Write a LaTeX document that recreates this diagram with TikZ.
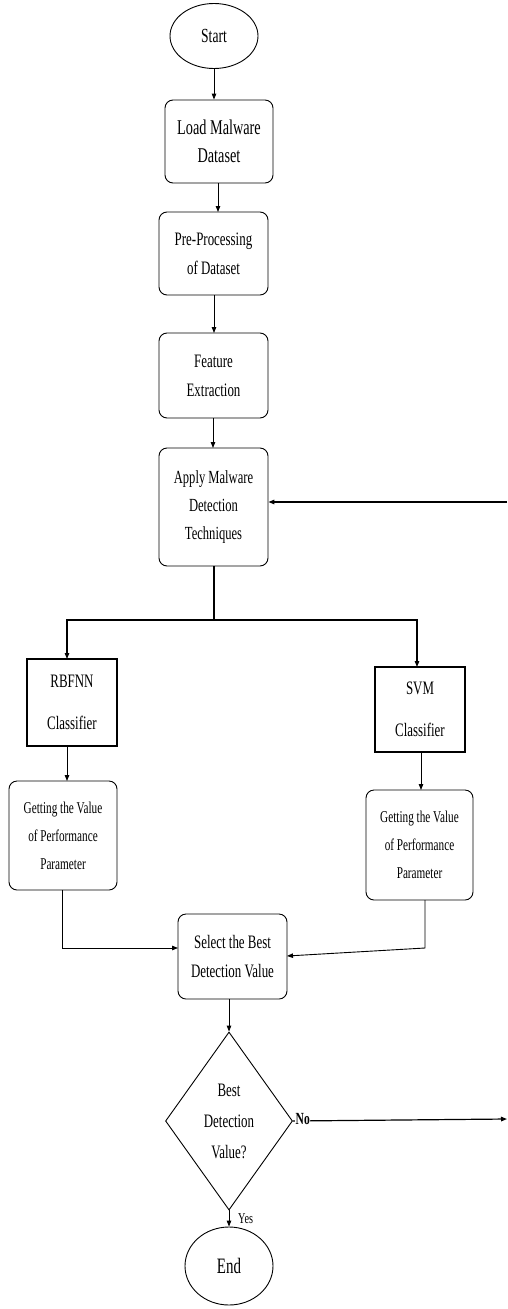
\documentclass[tikz,border=0pt]{standalone}
\usepackage{fontspec}
\setmainfont{Liberation Serif}[FakeStretch=0.68]
\usetikzlibrary{shapes.geometric,arrows.meta}
\begin{document}
\begin{tikzpicture}[x=1pt,y=-1pt,
  every node/.style={align=center,inner sep=0pt,font=\fontsize{19}{29}\selectfont},
  rbox/.style={draw,rounded corners=8pt,line width=0.9pt},
  sbox/.style={draw,line width=1.1pt},
  oval/.style={draw,ellipse,line width=0.9pt,font=\fontsize{20}{22}\selectfont},
  dia/.style={draw,diamond,aspect=0.71,line width=0.9pt,font=\fontsize{19}{31}\selectfont},
  arr/.style={line width=0.9pt,-{Triangle[length=6pt,width=4.5pt]}},
  lbl/.style={font=\fontsize{15}{17}\selectfont}
]
\useasboundingbox (0,0) rectangle (507,1309);
\fill[white] (0,0) rectangle (507,1309);

\node[oval,minimum width=88pt,minimum height=65pt] (start) at (214,36) {Start};
\node[rbox,minimum width=108pt,minimum height=83pt,font=\fontsize{21}{28}\selectfont] (load) at (219,141.5) {Load Malware\\Dataset};
\node[rbox,minimum width=109pt,minimum height=83pt] (pre) at (213.5,253.5) {Pre-Processing\\of Dataset};
\node[rbox,minimum width=109pt,minimum height=85pt] (feat) at (213.5,375.5) {Feature\\Extraction};
\node[rbox,minimum width=109pt,minimum height=118pt,font=\fontsize{18.5}{28}\selectfont] (apply) at (213.5,507) {Apply Malware\\Detection\\Techniques};
\node[sbox,minimum width=90pt,minimum height=87pt,font=\fontsize{19}{42}\selectfont] (rbf) at (72,702.5) {RBFNN\\Classifier};
\node[sbox,minimum width=90pt,minimum height=85pt,font=\fontsize{19}{42}\selectfont] (svm) at (420,709.5) {SVM\\Classifier};
\node[rbox,minimum width=108pt,minimum height=109pt,font=\fontsize{16.5}{28}\selectfont] (getl) at (63,835.5) {Getting the Value\\of Performance\\Parameter};
\node[rbox,minimum width=107pt,minimum height=110pt,font=\fontsize{16.5}{28}\selectfont] (getr) at (419.5,845) {Getting the Value\\of Performance\\Parameter};
\node[rbox,minimum width=109pt,minimum height=85pt] (sel) at (232.5,956.5) {Select the Best\\Detection Value};
\node[dia,minimum width=127pt,minimum height=178pt] (best) at (229,1121) {Best\\Detection\\Value?};
\node[oval,minimum width=88pt,minimum height=78pt,font=\fontsize{22}{24}\selectfont] (endn) at (229,1266) {End};

% main spine
\draw[arr] (start.south) -- (start.south |- load.north);
\draw[arr] (218,183) -- (218,212);
\draw[arr] (214,295) -- (214,333);
\draw[arr] (213,418) -- (213,448);

% split
\coordinate (split) at (214,620);
\draw[line width=1.1pt] (214,566) -- (split);
\draw[arr,line width=1.1pt] (split) -- (67,620) -- (67,659);
\draw[arr,line width=1.1pt] (split) -- (417,620) -- (417,667);

\draw[arr] (67,746) -- (67,781);
\draw[arr] (421,752) -- (421,790);

% to select
\coordinate (jl) at (62,948);
\coordinate (jr) at (425,948);
\draw[arr] (62,890) -- (jl) -- (178,948);
\draw[arr] (425,900) -- (jr) -- (287,956);

\draw[arr] (229,999) -- (best.north);
\draw[arr] (best.south) -- (endn.north);
\node[lbl,anchor=west] (yes) at (238,1219) {Yes};

% feedback
\coordinate (noend) at (507,1119);
\draw[arr,line width=1.2pt] (best.east) -- (noend);
\node[font=\fontsize{17}{19}\selectfont\bfseries,anchor=west,fill=white,inner sep=0.5pt] (no) at (295,1119) {No};
\coordinate (fbstart) at (507,502);
\draw[arr,line width=1.3pt] (fbstart) -- (apply.east |- fbstart);
\end{tikzpicture}
\end{document}
